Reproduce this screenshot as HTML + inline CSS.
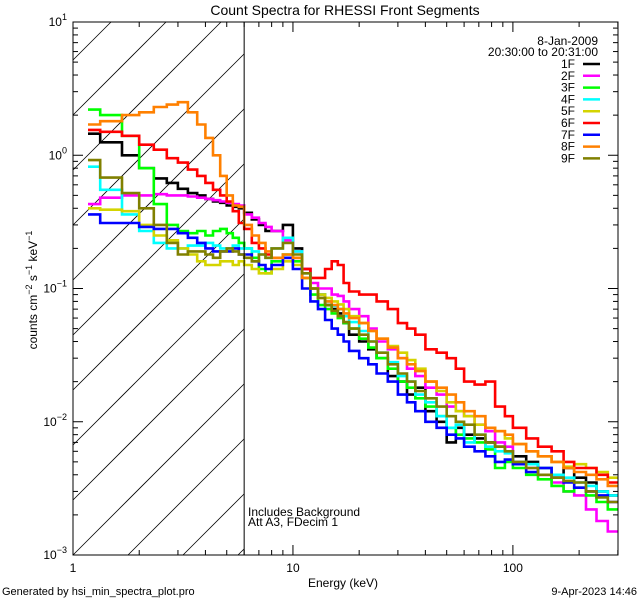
<!DOCTYPE html>
<html><head><meta charset="utf-8"><style>
html,body{margin:0;padding:0;background:#fff;width:640px;height:600px;overflow:hidden;}
svg{display:block;font-family:"Liberation Sans",sans-serif;}
</style></head><body>
<svg id="chart" width="640" height="600" viewBox="0 0 640 600" xmlns="http://www.w3.org/2000/svg" overflow="hidden">
<rect width="640" height="600" fill="#fff"/>
<text x="345" y="15" font-size="14" text-anchor="middle">Count Spectra for RHESSI Front Segments</text>
<defs><clipPath id="plotclip"><rect x="73" y="22" width="545" height="533"/></clipPath></defs>
<g id="hatch"></g>
<g id="series" clip-path="url(#plotclip)"></g>
<g id="axes"></g>
<text x="248" y="516" font-size="12">Includes Background</text>
<text x="248" y="526" font-size="12">Att A3, FDecim  1</text>
<text x="343" y="587" font-size="12" text-anchor="middle">Energy (keV)</text>
<text transform="translate(37,290) rotate(-90)" font-size="12" text-anchor="middle">counts cm<tspan dy="-5" font-size="9">−2</tspan><tspan dy="5"> s</tspan><tspan dy="-5" font-size="9">−1</tspan><tspan dy="5"> keV</tspan><tspan dy="-5" font-size="9">−1</tspan></text>
<text x="2" y="595" font-size="11">Generated by hsi_min_spectra_plot.pro</text>
<text x="637" y="595" font-size="11" text-anchor="end">9-Apr-2023 14:46</text>
<text x="598" y="45" font-size="12" text-anchor="end">8-Jan-2009</text>
<text x="598" y="56" font-size="12" text-anchor="end">20:30:00 to 20:31:00</text>
<g id="legend"></g>
</svg>
<script>
const edges = [1.17,1.33,1.67,2,2.33,2.67,3,3.33,3.67,4,4.33,4.67,5,5.33,5.67,6,6.5,7,7.5,8,9,10,11,12,13,14,15,16,17,18,20,22,24,27,30,33,36,40,45,50,55,60,67,75,83,92,100,115,130,150,170,190,215,240,270,300];
const seriesNames = ["1F","2F","3F","4F","5F","6F","7F","8F","9F"];
const seriesColors = ["#000000","#ff00ff","#00ff00","#00ffff","#d4d400","#ff0000","#0000ff","#ff8000","#808000"];
const s1F = [1.45,1.25,1.0,0.8,0.67,0.62,0.56,0.52,0.5,0.47,0.45,0.44,0.42,0.41,0.40, 0.37,0.33,0.3,0.27,0.27,0.3,0.2,0.14,0.1,0.09,0.075,0.07,0.065,0.055,0.045,0.04,0.035,0.03,0.022,0.02,0.016,0.018,0.012,0.01,0.007,0.009,0.008,0.0075,0.007,0.0065,0.006,0.0055,0.005,0.0045,0.004,0.0045,0.0038,0.0035,0.003,0.0028];
const s2F = [0.43,0.48,0.5,0.5,0.51,0.5,0.5,0.49,0.48,0.47,0.46,0.45,0.44,0.43,0.42, 0.36,0.34,0.31,0.29,0.27,0.23,0.19,0.14,0.11,0.1,0.1,0.09,0.088,0.08,0.07,0.062,0.05,0.04,0.035,0.03,0.025,0.022,0.018,0.016,0.013,0.012,0.011,0.0095,0.0085,0.007,0.0065,0.005,0.0045,0.004,0.0035,0.003,0.0028,0.0022,0.0018,0.0015];
const s3F = [2.2,2.0,1.4,0.8,0.43,0.3,0.27,0.26,0.27,0.25,0.27,0.28,0.26,0.24,0.22, 0.2,0.17,0.14,0.13,0.16,0.18,0.16,0.12,0.09,0.075,0.07,0.065,0.06,0.055,0.05,0.042,0.036,0.03,0.025,0.02,0.018,0.015,0.013,0.011,0.009,0.008,0.0075,0.007,0.0062,0.0045,0.005,0.0045,0.004,0.0037,0.0033,0.003,0.0032,0.0028,0.0025,0.0022];
const s4F = [0.82,0.55,0.36,0.27,0.22,0.2,0.2,0.21,0.21,0.22,0.21,0.2,0.2,0.21,0.2, 0.2,0.19,0.18,0.17,0.2,0.24,0.19,0.13,0.1,0.09,0.08,0.074,0.07,0.062,0.056,0.048,0.04,0.033,0.028,0.022,0.02,0.016,0.014,0.011,0.009,0.0095,0.007,0.008,0.0065,0.006,0.0058,0.005,0.0048,0.0045,0.004,0.0038,0.0035,0.0033,0.003,0.0028];
const s5F = [0.4,0.39,0.38,0.3,0.25,0.23,0.2,0.18,0.16,0.15,0.15,0.16,0.16,0.15,0.16, 0.15,0.14,0.13,0.13,0.14,0.16,0.15,0.12,0.1,0.09,0.085,0.08,0.076,0.07,0.062,0.055,0.048,0.042,0.037,0.033,0.029,0.025,0.02,0.017,0.014,0.012,0.011,0.0095,0.009,0.0085,0.0075,0.0068,0.006,0.0055,0.005,0.0046,0.0048,0.0045,0.0042,0.0038];
const s6F = [1.55,1.5,1.4,1.2,1.1,0.95,0.88,0.78,0.7,0.62,0.55,0.5,0.45,0.38,0.31, 0.28,0.22,0.2,0.18,0.17,0.17,0.17,0.14,0.12,0.12,0.14,0.16,0.15,0.11,0.095,0.09,0.09,0.08,0.07,0.055,0.05,0.045,0.035,0.033,0.03,0.025,0.02,0.019,0.02,0.013,0.011,0.009,0.0075,0.0065,0.006,0.005,0.0045,0.0045,0.004,0.0035];
const s7F = [0.36,0.31,0.31,0.29,0.28,0.28,0.26,0.24,0.22,0.2,0.19,0.19,0.19,0.2,0.18, 0.18,0.16,0.15,0.14,0.15,0.17,0.14,0.1,0.08,0.07,0.058,0.05,0.045,0.04,0.034,0.03,0.027,0.023,0.02,0.016,0.014,0.012,0.01,0.009,0.008,0.0075,0.0065,0.006,0.0055,0.005,0.0052,0.0048,0.0042,0.0045,0.0038,0.0035,0.0032,0.003,0.0028,0.0025];
const s8F = [1.7,1.8,2.0,2.1,2.3,2.4,2.5,2.1,1.7,1.35,1.0,0.7,0.5,0.42,0.41, 0.3,0.25,0.22,0.19,0.17,0.18,0.17,0.12,0.1,0.085,0.08,0.075,0.07,0.065,0.06,0.055,0.048,0.042,0.036,0.03,0.027,0.024,0.02,0.018,0.016,0.014,0.012,0.011,0.009,0.0085,0.008,0.0068,0.006,0.0055,0.005,0.0045,0.0042,0.004,0.0037,0.0033];
const s9F = [0.92,0.68,0.52,0.4,0.3,0.22,0.18,0.19,0.19,0.18,0.17,0.19,0.2,0.19,0.18, 0.17,0.16,0.18,0.17,0.2,0.22,0.18,0.13,0.1,0.085,0.075,0.068,0.062,0.056,0.05,0.045,0.04,0.033,0.027,0.023,0.02,0.017,0.015,0.013,0.011,0.01,0.0095,0.008,0.007,0.0065,0.006,0.005,0.0045,0.004,0.0038,0.0036,0.0035,0.003,0.0027,0.0025];
const seriesValues = [s1F,s2F,s3F,s4F,s5F,s6F,s7F,s8F,s9F];
const xMajorTicks = [1,10,100];
const xMajorLabels = ["1","10","100"];
const yMajorExps = [1,0,-1,-2,-3];
const thresholdEnergy = 6;

const NS="http://www.w3.org/2000/svg";
const L=73,R=618,T=22,B=555;
const xLog0=0, xLog1=Math.log10(300.5);
const yLog0=-3, yLog1=1;
function xs(e){return L+(Math.log10(e)-xLog0)/(xLog1-xLog0)*(R-L);}
function ys(v){return B-(Math.log10(v)-yLog0)/(yLog1-yLog0)*(B-T);}
function mk(tag,attrs,parent){const el=document.createElementNS(NS,tag);for(const k in attrs)el.setAttribute(k,attrs[k]);parent.appendChild(el);return el;}

// hatch lines y = c - (x - L), clipped manually to [L,HX]x[T,B]
const hatch=document.getElementById('hatch');
const HX=xs(thresholdEnergy);
for(let c=-600;c<1200;c+=55){
  let xa=Math.max(L, L + c - B), xb=Math.min(HX, L + c - T);
  if(xb<=xa) continue;
  const ya=c-(xa-L), yb=c-(xb-L);
  const ln=mk('line',{x1:xa,y1:ya,x2:xb,y2:yb,stroke:'#000','stroke-width':0.8},hatch);
  
  
}
const sg=document.getElementById('series');
seriesValues.forEach((vals,si)=>{
  let d='';
  for(let i=0;i<vals.length;i++){
    const x0=xs(edges[i]),x1=xs(edges[i+1]),y=ys(vals[i]);
    d+=(i===0?'M':'L')+x0.toFixed(1)+','+y.toFixed(1)+'L'+x1.toFixed(1)+','+y.toFixed(1);
  }
  const p=mk('path',{d:d,fill:'none',stroke:seriesColors[si],'stroke-width':2.6,'stroke-linejoin':'miter'},sg);
  
  
});
const ax=document.getElementById('axes');
const frame=mk('rect',{x:L,y:T,width:R-L,height:B-T,fill:'none',stroke:'#000','stroke-width':1},ax);


const thr=mk('line',{x1:HX,y1:T,x2:HX,y2:B,stroke:'#000','stroke-width':1},ax);


for(let dec=1;dec<=100;dec*=10){
  for(let m=1;m<=9;m++){
    const e=dec*m; if(e>300)break;
    const x=xs(e),len=(m===1)?10:5;
    const t1=mk('line',{x1:x,y1:B,x2:x,y2:B-len,stroke:'#000'},ax);
    
    
    const t2=mk('line',{x1:x,y1:T,x2:x,y2:T+len,stroke:'#000'},ax);
    
    
  }
}
xMajorTicks.forEach((e,i)=>{
  const t=mk('text',{x:xs(e),y:B+17,'font-size':12,'text-anchor':'middle'},ax);
  t.textContent=xMajorLabels[i];
  
  
});
yMajorExps.forEach(ex=>{
  const y=ys(Math.pow(10,ex));
  const t=mk('text',{x:L-6,y:y+4,'font-size':12,'text-anchor':'end'},ax);
  t.textContent='10';
  const sp=document.createElementNS(NS,'tspan');sp.setAttribute('dy','-6');sp.setAttribute('font-size','9');sp.textContent=String(ex).replace('-','−');t.appendChild(sp);
  
  
  if(ex>-3){
  for(let m=1;m<=9;m++){
    const v=m===1?Math.pow(10,ex):Math.pow(10,ex-1)*m;
    const yv=ys(v),len=(m===1)?10:5;
    const a=mk('line',{x1:L,y1:yv,x2:L+len,y2:yv,stroke:'#000'},ax);
    
    
    const b=mk('line',{x1:R,y1:yv,x2:R-len,y2:yv,stroke:'#000'},ax);
    
    
  }}
});
const lg=document.getElementById('legend');
seriesNames.forEach((n,i)=>{
  const y=64+i*11.8;
  const t=mk('text',{x:575,y:y+4,'font-size':12,'text-anchor':'end'},lg);
  t.textContent=n;
  
  
  const l=mk('line',{x1:583,y1:y,x2:600,y2:y,stroke:seriesColors[i],'stroke-width':2.5},lg);
  
  
});
</script>
</body></html>
